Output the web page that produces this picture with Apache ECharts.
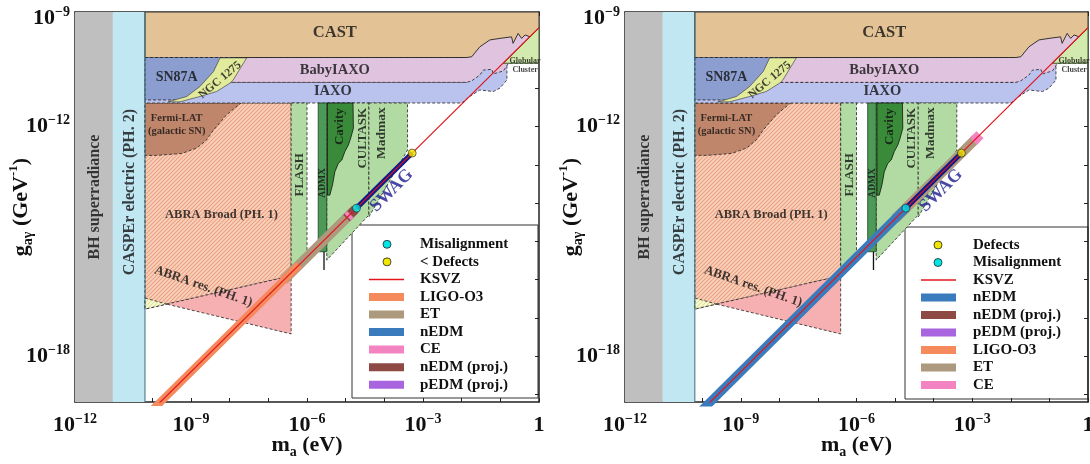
<!DOCTYPE html>
<html><head><meta charset="utf-8">
<script src="https://cdn.jsdelivr.net/npm/echarts@6.0.0/dist/echarts.min.js"></script>
<style>html,body{margin:0;padding:0;background:#fff}#c{width:1090px;height:464px}</style>
</head><body><div id="c"></div>
<script>
// All values are log10 of axion mass m_a (eV) and coupling g_ag (GeV^-1)
const massExtent = [-12, 0];
const couplingExtent = [-19.2, -9];
const massTicks = [-12,-11,-10,-9,-8,-7,-6,-5,-4,-3,-2,-1,0];
const massTickLabels = [-12,-9,-6,-3,0];
const couplingTicks = [-19,-18,-17,-16,-15,-14,-13,-12,-11,-10,-9];
const couplingTickLabels = [-18,-12,-9];

// excluded / projected regions (polygon vertices)
const bhSuperradiance = [[-12,-9],[-11.02,-9],[-11.02,-19.2],[-12,-19.2]];
const casperElectric = [[-11.02,-9],[-10.19,-9],[-10.19,-19.2],[-11.02,-19.2]];
const casperEdge = [[-10.19,-19.2],[-10.19,-9]];
const cast = [[-10.19,-9],[0,-9],[0,-9.42],[-0.10,-9.52],[-0.23,-9.65],[-0.36,-9.60],[-0.45,-9.69],[-0.54,-9.56],[-0.67,-9.82],[-0.71,-9.65],[-1.01,-9.69],[-1.27,-9.73],[-1.53,-9.91],[-1.74,-10.17],[-1.87,-10.19],[-10.19,-10.19]];
const babyIaxo = [[-10.19,-10.19],[-1.87,-10.19],[-1.6,-9.85],[-1.0,-9.55],[0,-9.3],[0,-10.34],[-0.79,-10.34],[-0.92,-10.54],[-1.18,-10.62],[-1.22,-10.50],[-1.44,-10.52],[-1.53,-10.65],[-1.74,-10.80],[-1.87,-10.84],[-10.19,-10.84]];
const iaxo = [[-10.19,-10.84],[-1.87,-10.84],[-1.5,-10.5],[-0.83,-10.34],[-0.83,-10.78],[-1.01,-10.99],[-1.18,-11.08],[-1.53,-11.04],[-1.79,-11.21],[-2.0,-11.38],[-10.19,-11.38]];
const sn87a = [[-10.19,-10.19],[-7.9,-10.19],[-8.2,-10.8],[-8.8,-11.15],[-9.25,-11.30],[-10.19,-11.30]];
const ngc1275 = [[-8.25,-10.2],[-7.56,-10.2],[-7.91,-10.78],[-7.99,-10.86],[-8.34,-11.08],[-8.77,-11.21],[-9.11,-11.30],[-9.28,-11.35],[-9.59,-11.35],[-9.11,-11.21],[-8.77,-10.95],[-8.42,-10.56]];
const globularCluster = [[-0.92,-10.34],[0,-10.34],[0,-9.42]];
const fermiLat = [[-10.19,-11.38],[-7.71,-11.38],[-8.08,-11.69],[-8.42,-12.09],[-8.60,-12.35],[-8.85,-12.56],[-9.24,-12.70],[-9.89,-12.75],[-10.19,-12.75]];
const abraBroad = [[-10.19,-11.38],[-6.41,-11.38],[-6.41,-15.90],[-9.63,-16.64],[-10.19,-16.77]];
const abraResEdge = [[-10.19,-16.48],[-9.63,-16.64],[-10.19,-16.77]];
const abraRes = [[-9.63,-16.64],[-6.41,-15.90],[-6.41,-17.42]];
const flash = [[-6.41,-11.38],[-6.0,-11.38],[-6.0,-15.5],[-6.41,-15.9]];
const cultask = [[-5.49,-11.38],[-4.40,-11.38],[-4.40,-14.31],[-5.49,-15.49]];
const madmax = [[-4.40,-11.38],[-3.40,-11.38],[-3.40,-12.61],[-4.40,-14.36]];
const admx = [[-5.71,-11.38],[-5.49,-11.38],[-5.49,-15.27],[-5.71,-15.27]];
const admxTail = [[-5.56,-15.27],[-5.56,-15.75]];
const cavity = [[-5.47,-11.38],[-4.81,-11.38],[-4.80,-12.04],[-4.87,-12.30],[-4.93,-12.48],[-5.02,-12.65],[-5.10,-12.87],[-5.19,-12.96],[-5.28,-13.18],[-5.34,-13.52],[-5.41,-13.79],[-5.47,-13.79]];

// KSVZ line and the bands along it
const ksvzLine = [[-12,-21.41],[0,-9.41]];
const swagBand = [[-4.72,-14.13],[-3.28,-12.69]];
const misalignmentPoint = [-4.72,-14.13];
const defectsPoint = [-3.28,-12.69];
// left panel
const ligoO3Left = [[-12,-21.41],[-6.2,-15.61]];
const etLeft = [[-6.6,-16.01],[-4.75,-14.16]];
const nedmProjLeft = [[-4.98,-14.39],[-4.75,-14.16]];
const ceLeft = [[-4.95,-14.36],[-4.88,-14.29]];
// right panel
const nedmRight = [[-12,-21.41],[-4.72,-14.13]];
const etRight = [[-5.0,-14.41],[-2.9,-12.31]];
const ceRight = [[-2.97,-12.38],[-2.8,-12.21]];
const ligoO3Right = [[-4.72,-14.13],[-4.45,-13.86]];
const pedmProjRight = [[-4.85,-14.26],[-4.65,-14.06]];

const legendLeft = ['Misalignment','< Defects','KSVZ','LIGO-O3','ET','nEDM','CE','nEDM (proj.)','pEDM (proj.)'];
const legendRight = ['Defects','Misalignment','KSVZ','nEDM','nEDM (proj.)','pEDM (proj.)','LIGO-O3','ET','CE'];

const FONT = '"Liberation Serif","Times New Roman",serif';
const C = {
  bh:'#bfbfbf', casper:'#c1e7f3', cast:'#e3c395', baby:'#dfc3df', iaxo:'#bac2ee', sn:'#8c9ecf',
  ngc:'#e2ea9c', fermi:'#bf866b', green:'#b1dba3', admx:'#4d9957', cavity:'#3a8b39', abraRes:'#f7b0b1',
  glob:'#d2eaad', ligo:'#f58a5c', et:'#ad9a7e', nedm:'#3a7bbd', ce:'#f484c1', nedmProj:'#8e4944',
  pedmProj:'#a865df', swag:'#0c1a8a', ksvz:'#e3151b', cyan:'#00e5e5', yellow:'#f2e600'
};
const legendStyle = {
  'Misalignment':{kind:'dot', color:C.cyan}, '< Defects':{kind:'dot', color:C.yellow}, 'Defects':{kind:'dot', color:C.yellow},
  'KSVZ':{kind:'line', color:C.ksvz}, 'LIGO-O3':{kind:'band', color:C.ligo}, 'ET':{kind:'band', color:C.et},
  'nEDM':{kind:'band', color:C.nedm}, 'CE':{kind:'band', color:C.ce}, 'nEDM (proj.)':{kind:'band', color:C.nedmProj},
  'pEDM (proj.)':{kind:'band', color:C.pedmProj}
};

function hatch(base, stripe) {
  const cv = document.createElement('canvas'); cv.width = 4; cv.height = 4;
  const g = cv.getContext('2d'); g.fillStyle = base; g.fillRect(0,0,4,4);
  g.strokeStyle = stripe; g.lineWidth = 1.1; g.beginPath();
  g.moveTo(-1,5); g.lineTo(5,-1); g.moveTo(-3,3); g.lineTo(3,-3); g.moveTo(1,7); g.lineTo(7,1); g.stroke();
  return {image: cv, repeat: 'repeat'};
}

const DASH = {stroke:'#222', lineWidth:0.8, lineDash:[3,2]};
function poly(pts, style, gi) {
  return {type:'custom', xAxisIndex:gi*2, yAxisIndex:gi*2, silent:true, clip:true, data:pts, encode:{x:0,y:1},
    renderItem:(params, api) => {
      if (params.dataIndex !== 0) return null;
      return {type:'polygon', shape:{points: pts.map(p => api.coord(p))}, style:Object.assign({}, style)};
    }};
}
function seg(pts, color, width, gi) {
  return {type:'line', xAxisIndex:gi*2, yAxisIndex:gi*2, data:pts, symbol:'none', silent:true, clip:true,
    lineStyle:{color, width, cap:'butt'}};
}
function dot(pt, color, gi) {
  return {type:'scatter', xAxisIndex:gi*2, yAxisIndex:gi*2, data:[pt], symbolSize:8, silent:true,
    itemStyle:{color, borderColor:'#222', borderWidth:0.8}, z:4};
}

const annotations = [
  {text:'CAST', at:[-5.28,-9.55], size:16.5},
  {text:'BabyIAXO', at:[-5.28,-10.52], size:14.5},
  {text:'IAXO', at:[-5.33,-11.07], size:14.5},
  {text:'SN87A', at:[-9.37,-10.72], size:14},
  {text:'NGC 1275', at:[-8.25,-10.78], size:11.5, rotate:40},
  {text:'Fermi-LAT', at:[-9.37,-11.78], size:10.5},
  {text:'(galactic SN)', at:[-9.37,-12.11], size:10.5},
  {text:'ABRA Broad (PH. 1)', at:[-8.21,-14.31], size:12.5},
  {text:'ABRA res. (PH. 1)', at:[-8.68,-16.18], size:13, rotate:-19},
  {text:'FLASH', at:[-6.18,-13.26], size:13, rotate:90},
  {text:'ADMX', at:[-5.59,-13.47], size:9.5, rotate:90},
  {text:'Cavity', at:[-5.15,-12.0], size:13, rotate:90},
  {text:'CULTASK', at:[-4.56,-12.30], size:13, rotate:90},
  {text:'Madmax', at:[-4.07,-12.17], size:13.5, rotate:90},
  {text:'SWAG', at:[-3.81,-13.67], size:18, rotate:45, color:'#1b1b8f'},
  {text:'Globular', at:[-0.36,-10.28], size:8},
  {text:'Cluster', at:[-0.36,-10.52], size:8},
  {text:'BH superradiance', at:[-11.48,-13.84], size:16, rotate:90},
  {text:'CASPEr electric (PH. 2)', at:[-10.58,-13.71], size:16, rotate:90}
];

const abraHatch = hatch('#f7d2bd', '#ee9f80');
const edgeHatch = hatch('#fbfbe0', '#dfe58f');

function panel(gi) {
  const s = [];
  s.push(poly(bhSuperradiance, {fill:C.bh}, gi));
  s.push(poly(casperElectric, {fill:C.casper}, gi));
  s.push(seg(casperEdge, '#3c6e7a', 1, gi));
  s.push(poly(abraBroad, Object.assign({fill:abraHatch}, DASH), gi));
  s.push(poly(abraResEdge, Object.assign({fill:edgeHatch}, DASH), gi));
  s.push(poly(abraRes, Object.assign({fill:C.abraRes}, DASH), gi));
  s.push(poly(fermiLat, Object.assign({fill:C.fermi}, DASH), gi));
  s.push(poly(iaxo, Object.assign({fill:C.iaxo}, DASH), gi));
  s.push(poly(babyIaxo, Object.assign({fill:C.baby}, DASH), gi));
  s.push(poly(cast, {fill:C.cast, stroke:'#222', lineWidth:0.9}, gi));
  s.push(poly(sn87a, Object.assign({fill:C.sn}, DASH), gi));
  s.push(poly(ngc1275, {fill:C.ngc, stroke:'#333', lineWidth:0.6}, gi));
  s.push(poly(globularCluster, {fill:C.glob, stroke:'#2e4a20', lineWidth:0.9}, gi));
  s.push(poly(flash, Object.assign({fill:C.green}, DASH), gi));
  s.push(poly(cultask, Object.assign({fill:C.green}, DASH), gi));
  s.push(poly(madmax, Object.assign({fill:C.green}, DASH), gi));
  s.push(poly(admx, {fill:C.admx, stroke:'#1d3d1d', lineWidth:0.8}, gi));
  s.push(seg(admxTail, '#111', 1.3, gi));
  s.push(poly(cavity, {fill:C.cavity, stroke:'#111', lineWidth:0.8}, gi));
  if (gi === 0) {
    s.push(seg(etLeft, C.et, 10, gi));
    s.push(seg(ligoO3Left, C.ligo, 8, gi));
    s.push(seg(nedmProjLeft, C.nedmProj, 9, gi));
    s.push(seg(ceLeft, C.ce, 9, gi));
  } else {
    s.push(seg(etRight, C.et, 10, gi));
    s.push(seg(ceRight, C.ce, 10, gi));
    s.push(seg(ligoO3Right, C.ligo, 7, gi));
    s.push(seg(pedmProjRight, C.pedmProj, 7, gi));
    s.push(seg(nedmRight, C.nedm, 9, gi));
  }
  s.push(seg(swagBand, C.swag, 5, gi));
  s.push(seg(ksvzLine, C.ksvz, 1.2, gi));
  s.push(dot(misalignmentPoint, C.cyan, gi));
  s.push(dot(defectsPoint, C.yellow, gi));
  s.push({type:'scatter', xAxisIndex:gi*2, yAxisIndex:gi*2, silent:true, symbolSize:0, z:5,
    data: annotations.map(a => ({value:a.at, label:{show:true, position:'inside', formatter:a.text,
      rotate:a.rotate || 0, fontSize:a.size, color:a.color || '#111', fontWeight:'bold', fontFamily:FONT,
      align:'center', verticalAlign:'middle'}}))});
  return s;
}

const labRich = {
  b:{fontFamily:FONT, fontWeight:'bold', fontSize:22, color:'#111', lineHeight:26},
  s:{fontFamily:FONT, fontWeight:'bold', fontSize:14, color:'#111', verticalAlign:'top'},
  e:{fontSize:1, lineHeight:12}
};
function powLabel(v) { v = Math.round(v); return v === 0 ? '{b|1}' : '{b|10}{s|\u2212' + Math.abs(v) + '}'; }
function powLabelY(v) { v = Math.round(v); const t = '{b|10}{s|\u2212' + Math.abs(v) + '}'; return v === -9 ? '{e| }\n' + t : t; }
const axLine = {show:true, onZero:false, lineStyle:{color:'#222', width:1.5}};
const tick = (vals) => ({show:true, inside:true, length:4, customValues:vals, lineStyle:{color:'#222', width:1}});
const nameRich = {
  b:{fontFamily:FONT, fontWeight:'bold', fontSize:22, color:'#111', lineHeight:28},
  sub:{fontFamily:FONT, fontWeight:'bold', fontSize:14, color:'#111', verticalAlign:'bottom', lineHeight:28},
  sup:{fontFamily:FONT, fontWeight:'bold', fontSize:13, color:'#111', verticalAlign:'top'}
};

const grids = [
  {left:75, top:12, width:464, height:390, containLabel:false, outerBoundsMode:'none'},
  {left:625, top:12, width:463, height:390, containLabel:false, outerBoundsMode:'none'}
];
const xAxis = [], yAxis = [];
grids.forEach((g, gi) => {
  xAxis.push({type:'value', gridIndex:gi, position:'bottom', min:massExtent[0], max:massExtent[1], interval:1,
    axisLine:axLine, axisTick:tick(massTicks), splitLine:{show:false},
    axisLabel:{show:true, customValues:massTickLabels, margin:10, formatter:powLabel, rich:labRich},
    name:'{b|m}{sub|a}{b| (eV)}', nameLocation:'middle', nameGap:29, nameMoveOverlap:false, nameTextStyle:{rich:nameRich}});
  xAxis.push({type:'value', gridIndex:gi, position:'top', min:massExtent[0], max:massExtent[1], interval:1,
    axisLine:axLine, axisTick:tick(massTicks), splitLine:{show:false}, axisLabel:{show:false}});
  yAxis.push({type:'value', gridIndex:gi, position:'left', min:couplingExtent[0], max:couplingExtent[1],
    axisLine:axLine, axisTick:tick(couplingTicks), splitLine:{show:false},
    axisLabel:{show:true, customValues:couplingTickLabels, margin:5, formatter:powLabelY, rich:labRich},
    name:'{b|g}{sub|a\u03b3}{b| (GeV}{sup|-1}{b|)}', nameLocation:'middle', nameGap:40, nameMoveOverlap:false, nameTextStyle:{rich:nameRich}});
  yAxis.push({type:'value', gridIndex:gi, position:'right', min:couplingExtent[0], max:couplingExtent[1],
    axisLine:axLine, axisTick:tick(couplingTicks), splitLine:{show:false}, axisLabel:{show:false}});
});

function legendGraphic(names, box, symX, lineX1, lineX2, textX, y0, step) {
  const els = [{type:'rect', shape:{x:box[0], y:box[1], width:box[2], height:box[3]},
    style:{fill:'#fff', stroke:'#333', lineWidth:1}}];
  names.forEach((n, i) => {
    const cy = y0 + i * step, st = legendStyle[n];
    if (st.kind === 'dot') els.push({type:'circle', shape:{cx:symX, cy, r:4}, style:{fill:st.color, stroke:'#222', lineWidth:0.8}});
    else if (st.kind === 'line') els.push({type:'line', shape:{x1:lineX1, y1:cy, x2:lineX2, y2:cy}, style:{stroke:st.color, lineWidth:1.5}});
    else els.push({type:'rect', shape:{x:lineX1, y:cy-4, width:lineX2-lineX1, height:8}, style:{fill:st.color}});
    els.push({type:'text', x:textX, y:cy, style:{text:n, font:'bold 15px ' + FONT, fill:'#111', align:'left', verticalAlign:'middle'}});
  });
  return {type:'group', z:100, children:els};
}

const series = panel(0).concat(panel(1));
const chart = echarts.init(document.getElementById('c'), null, {renderer:'canvas'});
chart.setOption({
  animation:false, grid:grids, xAxis, yAxis, series,
  graphic:[
    legendGraphic(legendLeft, [352,225,186,173], 387, 369, 404, 420, 244.3, 17.55),
    legendGraphic(legendRight, [905,227,183,172], 938, 921, 956, 973, 245, 17.5)
  ]
});
</script></body></html>
